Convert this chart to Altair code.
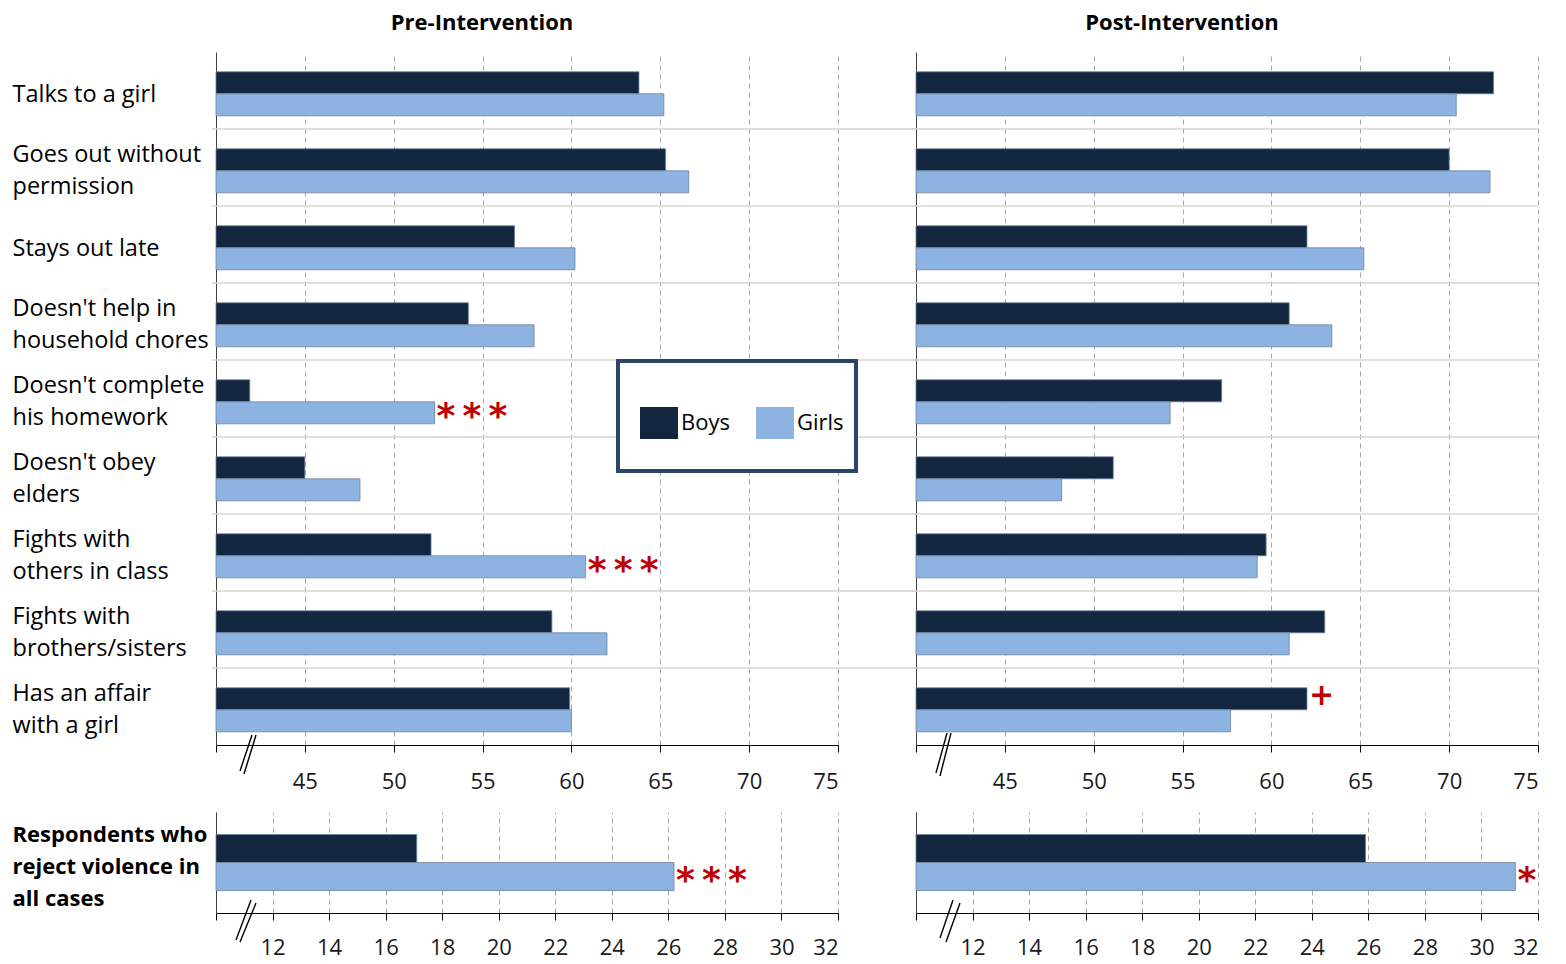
import altair as alt
import pandas as pd

# ---------------- data ----------------
categories = [
    "Talks to a girl",
    "Goes out without\npermission",
    "Stays out late",
    "Doesn't help in\nhousehold chores",
    "Doesn't complete\nhis homework",
    "Doesn't obey\nelders",
    "Fights with\nothers in class",
    "Fights with\nbrothers/sisters",
    "Has an affair\nwith a girl",
]
groups = ["Boys", "Girls"]

pre_boys = [63.8, 65.3, 56.8, 54.2, 41.9, 45.0, 52.1, 58.9, 59.9]
pre_girls = [65.2, 66.6, 60.2, 57.9, 52.3, 48.1, 60.8, 62.0, 60.0]
post_boys = [72.5, 70.0, 62.0, 61.0, 57.2, 51.1, 59.7, 63.0, 62.0]
post_girls = [70.4, 72.3, 65.2, 63.4, 54.3, 48.2, 59.2, 61.0, 57.7]

pre_boys_sig = ["", "", "", "", "", "", "", "", ""]
pre_girls_sig = ["", "", "", "", "***", "", "***", "", ""]
post_boys_sig = ["", "", "", "", "", "", "", "", "+"]
post_girls_sig = ["", "", "", "", "", "", "", "", ""]

summary_category = ["Respondents who\nreject violence in\nall cases"]
summary_pre_boys = [17.1]
summary_pre_girls = [26.2]
summary_post_boys = [25.9]
summary_post_girls = [31.2]
summary_pre_boys_sig = [""]
summary_pre_girls_sig = ["***"]
summary_post_boys_sig = [""]
summary_post_girls_sig = ["*"]

top_ticks = [40, 45, 50, 55, 60, 65, 70, 75]
bottom_ticks = [10, 12, 14, 16, 18, 20, 22, 24, 26, 28, 30, 32]

titles = ["Pre-Intervention", "Post-Intervention"]

# ---------------- style ----------------
FONT = "Open Sans"
BOYS = "#12263F"
GIRLS = "#8DB3E2"
RED = "#C00000"
GAP = 78
W = 622
H_TOP = 693
H_BOT = 101


def long_df(cats, boys, girls, bsig, gsig):
    rows = []
    for i, c in enumerate(cats):
        rows.append({"cat": c, "group": "Boys", "value": boys[i], "sig": bsig[i]})
        rows.append({"cat": c, "group": "Girls", "value": girls[i], "sig": gsig[i]})
    return pd.DataFrame(rows)


dummy = pd.DataFrame({"a": [0]})

nlines = "length(split(datum.value, '\\n'))"
label_offset = {
    "condition": [
        {"test": f"{nlines} == 3", "value": -28},
        {"test": f"{nlines} == 2", "value": -13},
    ],
    "value": 4,
}


def panel(cats, df, ticks, height, off_pad, off_align, title=None, show_labels=True,
          bold=False, sep_x2=W, breaks=(), frame=False, label_pad=204, xlab_pad=19):
    color = alt.Color(
        "group:N",
        scale=alt.Scale(domain=groups, range=[BOYS, GIRLS]),
        legend=alt.Legend(
            title=None, orient="none", legendX=424, legendY=352,
            direction="horizontal",
            symbolType="M-1,-0.84H1V0.84H-1Z", symbolSize=1444,
            symbolStrokeWidth=0, labelFont=FONT, labelFontSize=22,
            labelColor="black", labelOffset=3, columnPadding=26,
        ),
    )
    yaxis = alt.Axis(
        title=None, domain=True, domainColor="#404040", ticks=False, tickSize=0,
        grid=False, labels=show_labels,
        labelExpr="split(datum.label, '\\n')", labelAlign="left",
        labelBaseline="middle", labelPadding=label_pad, labelFont=FONT,
        labelFontSize=22 if bold else 23.5, labelColor="black", labelLineHeight=32,
        labelLimit=400, labelFontWeight="bold" if bold else "normal",
        labelOffset=label_offset,
    )
    ysc = alt.Scale(paddingInner=0, paddingOuter=0)
    xaxis = alt.Axis(
        title=None, values=ticks,
        labelExpr=f"datum.value == {ticks[0]} ? '' : datum.label",
        grid=True, gridDash=[5, 4], gridColor="#A6A6A6", gridWidth=1,
        domainColor="black", tickColor="black", tickSize=7,
        labelFont=FONT, labelFontSize=22, labelColor="#1a1a1a", labelPadding=xlab_pad,
    )
    xsc = alt.Scale(domain=[ticks[0], ticks[-1]], nice=False, zero=False)
    yoff = alt.YOffset(
        "group:N", sort=groups,
        scale=alt.Scale(paddingInner=0, paddingOuter=off_pad, align=off_align),
    )

    base = alt.Chart(df)
    bars = base.mark_bar(stroke="#6F8199", strokeWidth=0.8).encode(
        y=alt.Y("cat:N", sort=cats, scale=ysc, axis=yaxis),
        yOffset=yoff,
        x=alt.X("value:Q", scale=xsc, axis=xaxis),
        x2=alt.datum(ticks[0]),
        color=color,
    )
    layers = []
    if len(cats) > 1:
        seps = alt.Chart(pd.DataFrame({"cat": cats[1:]})).mark_rule(
            color="#D6D6D6", strokeWidth=1.6
        ).encode(
            y=alt.Y("cat:N", sort=cats, bandPosition=0),
            x=alt.value(-4), x2=alt.value(sep_x2),
        )
        layers.append(seps)
    layers.append(bars)
    note_enc = dict(
        y=alt.Y("cat:N", sort=cats),
        yOffset=alt.YOffset("group:N", sort=groups),
        x=alt.X("value:Q"),
        text="t:N",
    )
    stars = base.transform_filter("indexof(datum.sig, '*') >= 0").transform_calculate(
        t="join(split(datum.sig, ''), '\u2009')"
    ).mark_text(
        align="left", baseline="middle", dx=2, dy=4, font="DejaVu Sans",
        fontSize=36, fontWeight="bold", color=RED,
    ).encode(**note_enc)
    plus = base.transform_filter("datum.sig == '+'").transform_calculate(
        t="datum.sig"
    ).mark_text(
        align="left", baseline="middle", dx=2, dy=-2.5, font="DejaVu Sans",
        fontSize=30, fontWeight="bold", color=RED,
    ).encode(**note_enc)
    layers += [stars, plus]
    if frame:
        layers.append(
            alt.Chart(dummy).mark_rect(fill="white", stroke="#2B4468", strokeWidth=4).encode(
                x=alt.value(402), x2=alt.value(640), y=alt.value(309), y2=alt.value(419)
            )
        )
    for (x1, y1, x2, y2) in breaks:
        layers.append(
            alt.Chart(dummy).mark_rule(color="black", strokeWidth=1.4).encode(
                x=alt.value(x1), y=alt.value(y1), x2=alt.value(x2), y2=alt.value(y2)
            )
        )
    ch = alt.layer(*layers).properties(width=W, height=height)
    if title:
        ch = ch.properties(
            title=alt.TitleParams(
                text=title, font=FONT, fontSize=22, fontWeight="bold", color="black",
                anchor="middle", dx=-45, offset=17,
            )
        )
    return ch


tl = panel(categories, long_df(categories, pre_boys, pre_girls, pre_boys_sig, pre_girls_sig),
           top_ticks, H_TOP, 0.75, 0.6, title=titles[0], sep_x2=W + GAP,
           breaks=[(24, 719, 36, 683), (28, 722, 40, 683)], frame=True)
tr = panel(categories, long_df(categories, post_boys, post_girls, post_boys_sig, post_girls_sig),
           top_ticks, H_TOP, 0.75, 0.6, title=titles[1], show_labels=False,
           breaks=[(20, 721, 31, 681), (24, 724, 35, 681)])
bl = panel(summary_category, long_df(summary_category, summary_pre_boys, summary_pre_girls,
                                     summary_pre_boys_sig, summary_pre_girls_sig),
           bottom_ticks, H_BOT, 0.8, 0.5, bold=True, label_pad=204, xlab_pad=17,
           breaks=[(20, 128, 35, 88), (24, 130, 40, 91)])
br = panel(summary_category, long_df(summary_category, summary_post_boys, summary_post_girls,
                                     summary_post_boys_sig, summary_post_girls_sig),
           bottom_ticks, H_BOT, 0.8, 0.5, show_labels=False, xlab_pad=17,
           breaks=[(24, 126, 37, 88), (30, 130, 44, 91)])

chart = alt.concat(
    tl, tr, bl, br, columns=2, bounds="flush",
    spacing={"row": 67, "column": GAP},
).resolve_scale(yOffset="independent").properties(
    padding={"left": 4, "top": 4, "right": 5, "bottom": 2}
).configure_view(strokeWidth=0)

chart.save("out.html", embed_options={"renderer": "svg", "actions": False})
